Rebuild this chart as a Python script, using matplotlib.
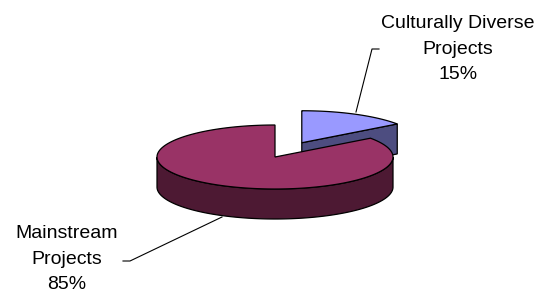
import numpy as np
import matplotlib.pyplot as plt
from matplotlib.patches import Polygon

# chart data
labels = ["Culturally Diverse\nProjects", "Mainstream\nProjects"]
values = [15, 85]
top_colors = ["#9999FF", "#993366"]
side_colors = ["#4D4D80", "#4D1933"]

# pie geometry in pixel space
cx, cy = 275, 157
rx, ry = 118, 32
depth = 30
explode = [0.5, 0.0]
start = 90.0  # degrees, clockwise


def pt(theta, ox, oy, dz=0):
    t = np.radians(theta)
    return ox + rx * np.cos(t), oy - ry * np.sin(t) + dz


fig = plt.figure(figsize=(5.48, 2.97), dpi=100)
ax = fig.add_axes([0, 0, 1, 1])
ax.set_xlim(0, 548)
ax.set_ylim(297, 0)
ax.axis("off")

total = sum(values)
slices = []
a = start
for v, ex in zip(values, explode):
    span = 360.0 * v / total
    a1, a0 = a, a - span  # clockwise from a1 down to a0
    mid = np.radians((a0 + a1) / 2)
    ox = cx + ex * rx * np.cos(mid)
    oy = cy - ex * ry * np.sin(mid)
    slices.append((a0, a1, ox, oy))
    a = a0

edge = dict(edgecolor="black", linewidth=0.9)

# draw back slice (small) first, then the main one in front
for i in [0, 1]:
    a0, a1, ox, oy = slices[i]
    ths = np.linspace(a0, a1, 400)
    # front rim (angles where sin < 0)
    front = ths[np.sin(np.radians(ths)) <= 0.001]
    if len(front) > 1:
        topc = [pt(t, ox, oy) for t in front]
        botc = [pt(t, ox, oy, depth) for t in front[::-1]]
        ax.add_patch(Polygon(topc + botc, closed=True, facecolor=side_colors[i], **edge))
    # radial face at the clockwise end if it faces the viewer
    if np.cos(np.radians(a0)) > 0 and np.sin(np.radians(a0)) > 0:
        p = pt(a0, ox, oy)
        face = [(ox, oy), p, (p[0], p[1] + depth), (ox, oy + depth)]
        ax.add_patch(Polygon(face, closed=True, facecolor=side_colors[i], **edge))
    # top face
    top = [(ox, oy)] + [pt(t, ox, oy) for t in ths]
    ax.add_patch(Polygon(top, closed=True, facecolor=top_colors[i], **edge))

# labels with leader lines
ax.plot([379, 372, 356], [49, 49, 112], color="black", lw=0.8)
ax.plot([123, 130, 222], [261, 261, 217], color="black", lw=0.8)

font = dict(family="Liberation Sans", fontsize=14, ha="center", va="center",
            linespacing=1.62)
ax.text(458, 49, f"{labels[0]}\n{values[0]}%", **font)
ax.text(67, 259, f"{labels[1]}\n{values[1]}%", **font)

fig.savefig("out.png", dpi=100)
